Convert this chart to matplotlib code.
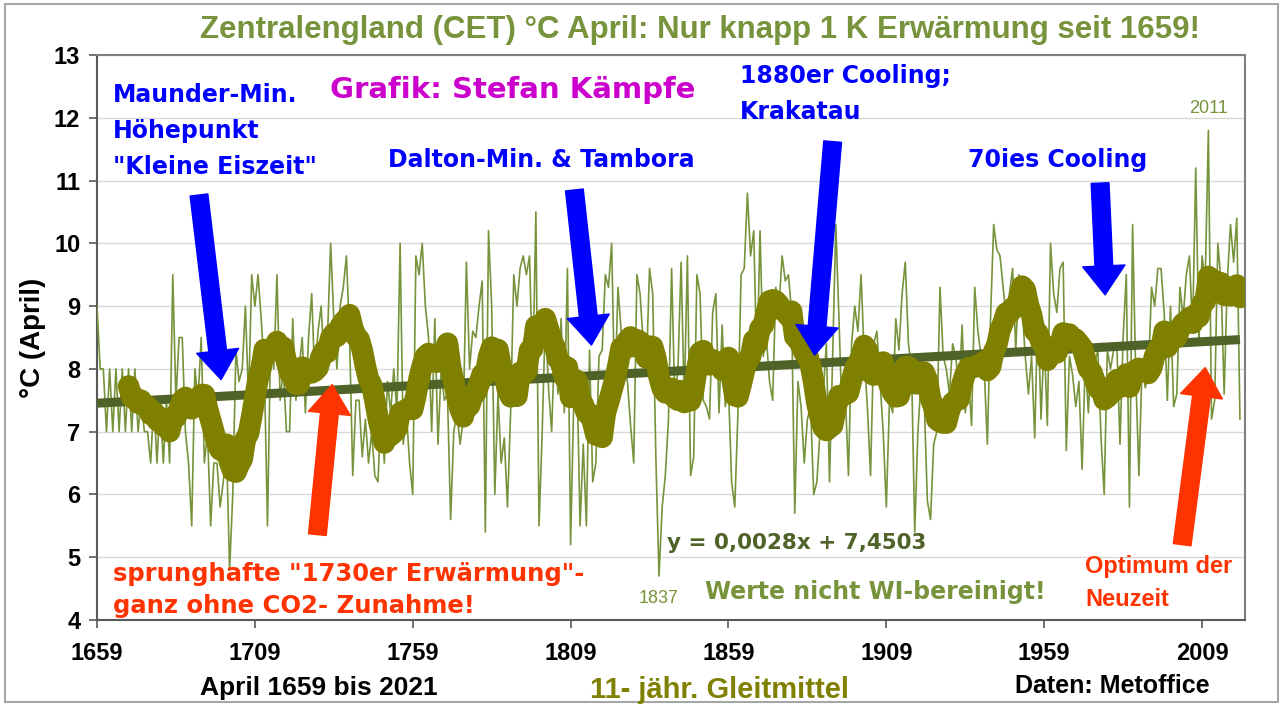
import numpy as np
import pandas as pd
import matplotlib
matplotlib.use('Agg')
import matplotlib.pyplot as plt
from matplotlib.patches import Rectangle

# CET April mean temperature (°C), 1659-2021
years = np.arange(1659, 2022)
april_temps = [
    9.0,
    8.0, 8.0, 7.0, 8.0, 7.0, 8.0, 7.0, 8.0, 7.0, 8.0,    # 1660s
    7.0, 8.0, 7.0, 7.5, 7.0, 7.0, 6.5, 7.5, 6.5, 7.5,    # 1670s
    6.5, 7.5, 6.5, 9.5, 7.5, 8.5, 8.5, 7.0, 6.5, 5.5,    # 1680s
    8.0, 7.5, 8.5, 6.5, 7.0, 5.5, 6.5, 6.5, 5.8, 6.2,    # 1690s
    6.8, 4.8, 6.0, 8.3, 7.8, 8.0, 9.0, 7.5, 9.5, 9.0,    # 1700s
    9.5, 8.8, 8.0, 5.5, 8.5, 8.0, 9.5, 7.5, 8.0, 7.0,    # 1710s
    7.0, 8.8, 7.5, 8.0, 8.5, 7.3, 8.5, 9.2, 7.8, 8.6,    # 1720s
    9.0, 8.0, 8.5, 10.0, 8.8, 8.0, 9.0, 9.3, 9.8, 8.5,   # 1730s
    6.3, 7.5, 7.5, 6.6, 7.2, 6.5, 7.0, 6.3, 6.2, 7.4,    # 1740s
    6.5, 7.8, 7.3, 8.0, 7.3, 10.0, 6.8, 7.3, 6.5, 6.0,   # 1750s
    9.8, 9.5, 10.0, 9.0, 8.5, 7.0, 8.8, 6.8, 8.0, 7.5,   # 1760s
    7.6, 5.6, 7.0, 7.3, 6.8, 7.2, 9.7, 8.0, 8.6, 8.5,    # 1770s
    9.0, 9.4, 5.4, 10.2, 9.0, 6.0, 7.6, 6.5, 6.9, 5.8,   # 1780s
    7.3, 9.5, 9.0, 9.6, 9.8, 9.5, 9.8, 7.8, 10.5, 5.5,   # 1790s
    7.0, 8.8, 7.7, 7.0, 8.5, 7.6, 8.8, 7.3, 9.6, 5.2,    # 1800s
    7.5, 8.0, 5.5, 6.8, 5.5, 8.3, 6.2, 6.5, 8.2, 8.3,    # 1810s
    9.5, 9.3, 10.0, 7.5, 9.3, 8.6, 8.0, 7.8, 7.1, 6.5,   # 1820s
    9.5, 9.2, 8.4, 8.0, 9.6, 9.2, 6.6, 4.7, 5.8, 6.3,    # 1830s
    7.2, 9.6, 7.5, 8.0, 9.7, 7.5, 9.8, 6.3, 6.6, 9.5,    # 1840s
    9.2, 7.5, 7.4, 7.2, 8.9, 9.2, 7.3, 8.7, 7.4, 7.7,    # 1850s
    6.2, 5.8, 7.3, 9.5, 9.6, 10.8, 9.8, 10.2, 8.0, 10.2, # 1860s
    8.2, 8.5, 7.8, 7.5, 9.3, 9.0, 9.8, 9.4, 9.5, 8.9,    # 1870s
    5.7, 7.8, 7.4, 6.5, 7.2, 7.4, 6.0, 6.2, 7.0, 7.6,    # 1880s
    8.4, 6.2, 8.2, 10.3, 8.8, 7.2, 7.6, 6.3, 8.4, 9.0,   # 1890s
    8.6, 9.5, 8.2, 7.4, 6.3, 8.4, 8.6, 7.8, 7.0, 5.8,    # 1900s
    7.5, 7.3, 8.8, 8.3, 9.2, 9.7, 8.4, 8.0, 5.4, 7.0,    # 1910s
    7.8, 7.5, 5.9, 5.6, 6.8, 7.0, 9.3, 8.2, 8.0, 7.6,    # 1920s
    8.4, 8.2, 7.6, 8.7, 7.3, 7.9, 7.1, 9.3, 8.6, 8.2,    # 1930s
    8.0, 6.8, 8.8, 10.3, 9.9, 9.8, 9.3, 8.8, 9.2, 9.6,   # 1940s
    8.3, 9.5, 9.0, 8.2, 7.6, 8.2, 6.9, 9.0, 7.2, 8.5,    # 1950s
    7.1, 10.0, 9.2, 8.9, 9.6, 9.7, 6.7, 8.2, 7.9, 7.4,   # 1960s
    7.8, 6.4, 8.1, 7.3, 8.4, 8.1, 8.3, 6.9, 6.0, 8.3,    # 1970s
    8.0, 8.3, 8.4, 6.8, 8.5, 9.5, 5.8, 10.3, 7.9, 6.3,   # 1980s
    8.1, 7.7, 7.9, 9.3, 9.0, 9.6, 9.6, 8.9, 7.5, 9.0,    # 1990s
    7.4, 7.6, 9.3, 8.8, 9.5, 9.8, 8.6, 11.2, 8.4, 9.8,   # 2000s
    9.4, 11.8, 7.2, 7.5, 10.0, 9.4, 7.6, 9.4, 10.3, 9.7, # 2010s
    10.4, 7.2,                                           # 2020, 2021
]

window = 11                 # 11-year moving average (trailing, like Excel)
trend_slope = 0.0028        # y = 0,0028x + 7,4503
trend_intercept = 7.4503
x_ticks = list(range(1659, 2010, 50))
y_ticks = list(range(4, 14))
labelled_years = [1837, 2011]

W, H = 1285, 706
GREEN_LIGHT = '#77933C'
OLIVE = '#808000'
GREEN_DARK = '#4F6228'
BLUE = '#0000FF'
RED = '#FF3300'
MAGENTA = '#CC00CC'
NARROW = ['Liberation Sans', 'DejaVu Sans']
WIDE = ['DejaVu Sans']


def px_text(fig, px, py, s, **kw):
    '''place text using pixel positions of the reference picture'''
    fig.text(px / W, 1 - py / H, s, **kw)


def arrow(ax, tail, tip, color):
    ax.annotate('', xy=tip, xytext=tail,
                arrowprops=dict(arrowstyle='simple,head_length=1.3,head_width=1.9,tail_width=0.8',
                                mutation_scale=16, color=color, shrinkA=0, shrinkB=0),
                zorder=6)


temps = pd.Series(april_temps, index=years)
moving_avg = temps.rolling(window).mean()
trend = trend_slope * np.arange(1, len(years) + 1) + trend_intercept

fig = plt.figure(figsize=(W / 100, H / 100), dpi=100)
ax = fig.add_axes([97 / W, 1 - 620 / H, (1245 - 97) / W, (620 - 55) / H])

ax.plot(temps.index, temps.values, color=GREEN_LIGHT, lw=1.2, zorder=3)
ax.plot(years, trend, color=GREEN_DARK, lw=6.5, zorder=4, solid_capstyle='butt')
ax.plot(moving_avg.index, moving_avg.values, color=OLIVE, lw=15.5,
        solid_capstyle='round', solid_joinstyle='round', zorder=5)

ax.set_xlim(1659, 2022.6)
ax.set_ylim(4, 13)
ax.set_xticks(x_ticks)
ax.set_yticks(y_ticks)
ax.grid(axis='y', color='#D9D9D9', lw=1)
ax.set_axisbelow(True)
ax.tick_params(direction='out', length=6, width=1.2, color='#595959')
for lab in ax.get_xticklabels() + ax.get_yticklabels():
    lab.set_family(NARROW)
    lab.set_fontweight('bold')
    lab.set_fontsize(17)
ax.tick_params(axis='x', pad=10)
ax.tick_params(axis='y', pad=6)
for side in ['left', 'bottom', 'top', 'right']:
    ax.spines[side].set_color('#7F7F7F')
    ax.spines[side].set_linewidth(1.5)
ax.spines['left'].set_color('#595959')
ax.spines['bottom'].set_color('#595959')

ax.set_ylabel('°C (April)', family=NARROW, fontweight='bold', fontsize=20, labelpad=6)

# year labels for the extremes
for yr in labelled_years:
    v = temps[yr]
    ax.annotate(str(yr), (yr, v), xytext=(0, -16 if v < 6 else 16), textcoords='offset points',
                ha='center', va='center', color=GREEN_LIGHT, fontsize=13, family=NARROW)

# arrows
arrow(ax, (1691.3, 10.77), (1698.3, 7.83), BLUE)
arrow(ax, (1810.2, 10.85), (1815.6, 8.38), BLUE)
arrow(ax, (1892.0, 11.62), (1886.3, 8.22), BLUE)
arrow(ax, (1976.7, 10.96), (1978.3, 9.18), BLUE)
arrow(ax, (1728.8, 5.36), (1733.5, 7.75), RED)
arrow(ax, (2002.7, 5.20), (2010.0, 8.02), RED)

blue = dict(family=WIDE, fontweight='bold', fontsize=17, color=BLUE)
px_text(fig, 700, 30, 'Zentralengland (CET) °C April: Nur knapp 1 K Erwärmung seit 1659!',
        ha='center', va='center', color=GREEN_LIGHT, family=NARROW, fontweight='bold', fontsize=22.5)
px_text(fig, 330, 90, 'Grafik: Stefan Kämpfe', ha='left', va='center', color=MAGENTA,
        family=WIDE, fontweight='bold', fontsize=21)
px_text(fig, 113, 131, 'Maunder-Min.\nHöhepunkt\n"Kleine Eiszeit"', ha='left', va='center',
        linespacing=1.62, **blue)
px_text(fig, 388, 160, 'Dalton-Min. & Tambora', ha='left', va='center', **blue)
px_text(fig, 740, 94, '1880er Cooling;\nKrakatau', ha='left', va='center', linespacing=1.62, **blue)
px_text(fig, 968, 160, '70ies Cooling', ha='left', va='center', **blue)
px_text(fig, 113, 590, 'sprunghafte "1730er Erwärmung"-\nganz ohne CO2- Zunahme!', ha='left',
        va='center', color=RED, family=WIDE, fontweight='bold', fontsize=17.5, linespacing=1.4)
px_text(fig, 1085, 583, 'Optimum der\nNeuzeit', ha='left', va='center', color=RED,
        family=NARROW, fontweight='bold', fontsize=17, linespacing=1.55)
px_text(fig, 667, 543, 'y = 0,0028x + 7,4503', ha='left', va='center', color=GREEN_DARK,
        family=WIDE, fontweight='bold', fontsize=15.5)
px_text(fig, 705, 592, 'Werte nicht WI-bereinigt!', ha='left', va='center', color=GREEN_LIGHT,
        family=WIDE, fontweight='bold', fontsize=17)

bottom = dict(family=NARROW, fontweight='bold', va='center', ha='left')
px_text(fig, 200, 688, 'April 1659 bis 2021', color='black', fontsize=19, **bottom)
px_text(fig, 590, 690, '11- jähr. Gleitmittel', color=OLIVE, fontsize=21, **bottom)
px_text(fig, 1015, 686, 'Daten: Metoffice', color='black', fontsize=18, **bottom)

fig.patches.append(Rectangle((5 / W, 4 / H), (W - 12) / W, (H - 8) / H, transform=fig.transFigure,
                             fill=False, edgecolor='#A6A6A6', lw=1.5))

plt.savefig('out.png', dpi=100)
